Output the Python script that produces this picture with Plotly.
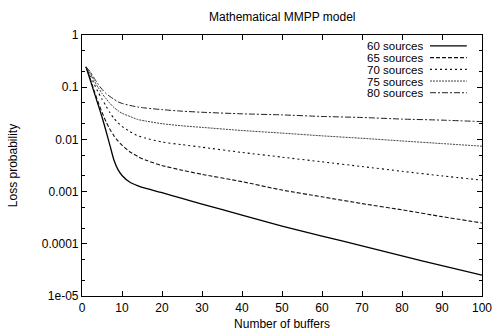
import plotly.graph_objects as go

buffers = [1, 2, 3, 4, 5, 6, 7, 8, 9, 10, 12, 14, 16, 20, 25, 30, 40, 50, 60, 70, 80, 90, 100]

loss_60 = [0.245, 0.141, 0.0813, 0.0468, 0.0269, 0.0145, 0.00759, 0.00398, 0.00263, 0.00204,
           0.00151, 0.00129, 0.00115, 0.000955, 0.000741, 0.000575, 0.000355, 0.000219,
           0.000141, 9.12e-5, 5.89e-5, 3.8e-5, 2.51e-5]
loss_65 = [0.245, 0.151, 0.0871, 0.0525, 0.0331, 0.0219, 0.0155, 0.0117, 0.00933, 0.00776,
           0.00575, 0.00468, 0.00398, 0.00316, 0.00257, 0.00214, 0.00155, 0.00107,
           0.000794, 0.000589, 0.000447, 0.000331, 0.000251]
loss_70 = [0.245, 0.174, 0.117, 0.0813, 0.0589, 0.0437, 0.0324, 0.0251, 0.0209, 0.0178,
           0.0141, 0.0117, 0.0105, 0.00891, 0.00794, 0.00708, 0.00562, 0.00457,
           0.00372, 0.00302, 0.00245, 0.0020, 0.00166]
loss_75 = [0.245, 0.191, 0.135, 0.1, 0.0759, 0.0603, 0.049, 0.0407, 0.0355, 0.0316,
           0.0275, 0.024, 0.0224, 0.02, 0.0182, 0.017, 0.0148, 0.0132,
           0.0117, 0.0105, 0.00933, 0.00832, 0.00741]
loss_80 = [0.245, 0.2, 0.151, 0.115, 0.0912, 0.0759, 0.0661, 0.0589, 0.0525, 0.049,
           0.0447, 0.0417, 0.0398, 0.0372, 0.0347, 0.0331, 0.0309, 0.0295,
           0.0275, 0.0263, 0.0245, 0.0234, 0.0219]

series_names = ["60 sources", "65 sources", "70 sources", "75 sources", "80 sources"]
series_values = [loss_60, loss_65, loss_70, loss_75, loss_80]
dashes = ["solid", "4px,2px", "2px,3px", "2px,1px", "6px,2px,2px,2px"]
widths = [1.3, 1.1, 1.1, 1.0, 1.0]
colors = ["#000000", "#111111", "#111111", "#444444", "#222222"]

y_tickvals = [1, 0.1, 0.01, 0.001, 0.0001, 0.00001]
y_ticktext = ["1", "0.1", "0.01", "0.001", "0.0001", "1e-05"]
x_tickvals = [0, 10, 20, 30, 40, 50, 60, 70, 80, 90, 100]

FONT = "Liberation Sans, Arial, sans-serif"

fig = go.Figure()
for name, vals, d, w, c in zip(series_names, series_values, dashes, widths, colors):
    fig.add_trace(go.Scatter(x=buffers, y=vals, mode="lines", name=name,
                             line=dict(color=c, width=w, dash=d, shape="spline", smoothing=0.6),
                             showlegend=False))

# gnuplot-style legend: text right-aligned, sample line on the right
row0 = 0.958
step = 0.0448
for i, (name, d, w, c) in enumerate(zip(series_names, dashes, widths, colors)):
    yy = row0 - i * step
    fig.add_annotation(x=0.858, y=yy, xref="paper", yref="paper", text=name,
                       showarrow=False, xanchor="right", yanchor="middle",
                       height=11, borderpad=0,
                       font=dict(family=FONT, size=11.5, color="black"))
    fig.add_shape(type="line", xref="paper", yref="paper", x0=0.87, x1=0.962, y0=yy, y1=yy,
                  line=dict(color=c, width=w, dash=d))

axis_common = dict(showline=True, linecolor="black", linewidth=1.2, mirror="allticks",
                   ticks="inside", ticklen=5, tickcolor="black", tickwidth=1,
                   showgrid=False, zeroline=False, automargin=False,
                   tickfont=dict(family=FONT, size=12, color="black"))

fig.update_xaxes(range=[0, 100], tickvals=x_tickvals,
                 title=dict(text="Number of buffers", font=dict(family=FONT, size=12, color="black"), standoff=6),
                 **axis_common)
fig.update_yaxes(type="log", range=[-5, 0], tickvals=y_tickvals, ticktext=y_ticktext,
                 minor=dict(ticks="inside", ticklen=3, tickcolor="black", tickvals=[
                     0.5, 0.2, 0.05, 0.02, 0.005, 0.002, 0.0005, 0.0002, 0.00005, 0.00002]),
                 title=dict(text="Loss probability", font=dict(family=FONT, size=12, color="black"), standoff=21),
                 **axis_common)

fig.update_layout(
    width=494, height=332,
    margin=dict(l=82, r=12, t=35, b=36, autoexpand=False),
    paper_bgcolor="white", plot_bgcolor="white",
    title=dict(text="Mathematical MMPP model", x=0.5714, xanchor="center", y=0.95, yanchor="middle",
               font=dict(family=FONT, size=12, color="black")),
)

fig.write_html("out.html")
